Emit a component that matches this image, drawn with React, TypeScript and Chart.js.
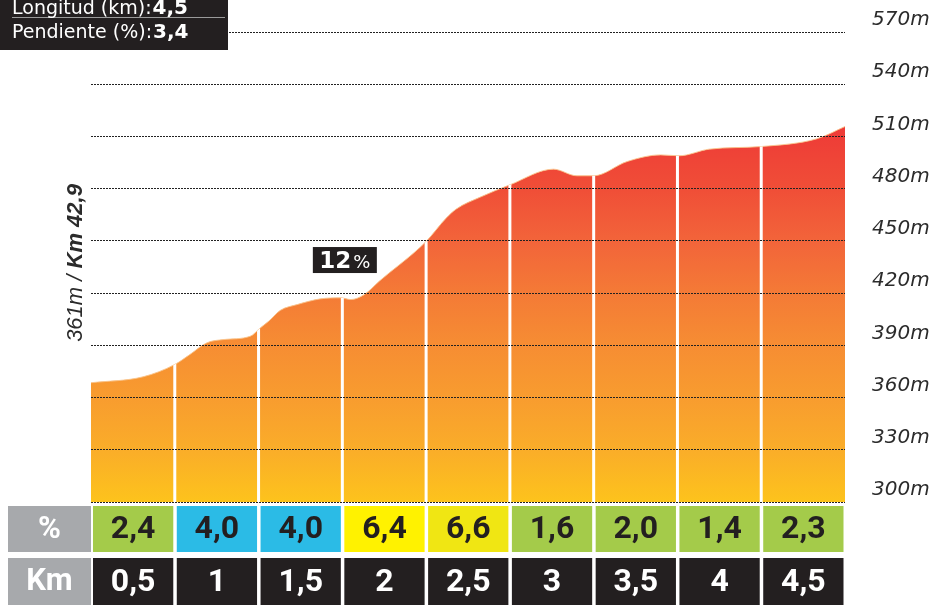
import React, { useEffect, useRef } from 'react';
import { Chart, registerables } from 'chart.js';

Chart.register(...registerables);

// Profile (km from start, elevation in metres)
const kmPoints = [0, 0.31, 0.5, 0.59, 0.69, 0.79, 0.95, 1.01, 1.06, 1.13, 1.23, 1.37, 1.49, 1.55, 1.63, 1.72, 2.0, 2.12, 2.18, 2.32, 2.5, 2.76, 2.9, 3.0, 3.2, 3.4, 3.51, 3.69, 4.0, 4.33, 4.5];
const elevations = [368.5, 371.9, 379, 384.7, 391.4, 393.3, 395.2, 400, 403.8, 410.1, 413.4, 416.7, 417.3, 416.3, 419.1, 426.8, 449.7, 463.1, 468.3, 475, 482.2, 491.2, 487.4, 487.4, 495.6, 499.4, 498.9, 502.7, 504.2, 508.6, 515.7];

const yMin = 300;
const yMax = 570;
const yStep = 30;

// Half-kilometre segments
const segmentEnds = [0.5, 1, 1.5, 2, 2.5, 3, 3.5, 4, 4.5];
const segmentKmLabels = ['0,5', '1', '1,5', '2', '2,5', '3', '3,5', '4', '4,5'];
const segmentGrades = ['2,4', '4,0', '4,0', '6,4', '6,6', '1,6', '2,0', '1,4', '2,3'];
const segmentColors = ['#a4cb4a', '#2bbbe6', '#2bbbe6', '#fff200', '#f0e613', '#a4cb4a', '#a4cb4a', '#a4cb4a', '#a4cb4a'];
const rowHeaders = ['%', 'Km'];

const infoLines: [string, string][] = [
  ['Longitud (km):', '4,5'],
  ['Pendiente (%):', '3,4'],
];
const startLabel: [string, string] = ['361m / ', 'Km 42,9'];
const peakLabel: [string, string] = ['12', '%'];
const peakLabelKm = 1.515;
const peakLabelElevation = 439;

const profilePlugin = {
  id: 'profileDecor',
  afterDatasetsDraw(chart: any) {
    const { ctx, chartArea, scales } = chart;
    const xs = scales.x;
    const line = chart.getDatasetMeta(0).dataset;
    ctx.save();
    ctx.beginPath();
    if (line && typeof line.path === 'function') {
      line.path(ctx);
      ctx.lineTo(chartArea.right, chartArea.bottom);
      ctx.lineTo(chartArea.left, chartArea.bottom);
      ctx.closePath();
    } else {
      ctx.rect(chartArea.left, chartArea.top, chartArea.right - chartArea.left, chartArea.bottom - chartArea.top);
    }
    ctx.clip();
    ctx.strokeStyle = '#ffffff';
    ctx.lineWidth = 3;
    segmentEnds.slice(0, -1).forEach((km) => {
      const px = xs.getPixelForValue(km);
      ctx.beginPath();
      ctx.moveTo(px, chartArea.top);
      ctx.lineTo(px, chartArea.bottom + 2);
      ctx.stroke();
    });
    ctx.restore();
  },
  afterDraw(chart: any) {
    const { ctx, chartArea, scales } = chart;
    const xs = scales.x;
    const ys = scales.y;
    ctx.save();

    // ---- bottom table ----
    const rowTops = [chartArea.bottom + 4, chartArea.bottom + 56];
    const rowHeights = [46, 47];
    rowHeaders.forEach((h, r) => {
      ctx.fillStyle = '#a7a9ac';
      ctx.fillRect(8, rowTops[r], chartArea.left - 8, rowHeights[r]);
      ctx.fillStyle = '#ffffff';
      ctx.font = 'bold 31px Roboto';
      ctx.textAlign = 'center';
      ctx.textBaseline = 'middle';
      ctx.fillText(h, (8 + chartArea.left) / 2, rowTops[r] + rowHeights[r] / 2 + 1);
    });
    segmentEnds.forEach((end, i) => {
      const start = i === 0 ? 0 : segmentEnds[i - 1];
      const l = xs.getPixelForValue(start) + 2;
      const rr = xs.getPixelForValue(end) - 1.5;
      const cx = (l + rr) / 2;
      // grade row
      ctx.fillStyle = segmentColors[i];
      ctx.fillRect(l, rowTops[0], rr - l, rowHeights[0]);
      ctx.fillStyle = '#231f20';
      ctx.font = 'bold 32px Roboto';
      ctx.textAlign = 'center';
      ctx.textBaseline = 'middle';
      ctx.fillText(segmentGrades[i], cx, rowTops[0] + rowHeights[0] / 2 + 1);
      // km row
      ctx.fillStyle = '#231f20';
      ctx.fillRect(l, rowTops[1], rr - l, rowHeights[1]);
      ctx.fillStyle = '#ffffff';
      ctx.fillText(segmentKmLabels[i], cx, rowTops[1] + rowHeights[1] / 2 + 1);
    });

    // ---- info box ----
    ctx.fillStyle = '#231f20';
    ctx.fillRect(0, 0, 228, 50);
    ctx.strokeStyle = '#9a9a9a';
    ctx.lineWidth = 1;
    ctx.beginPath();
    ctx.moveTo(12, 17.5);
    ctx.lineTo(225, 17.5);
    ctx.stroke();
    ctx.textAlign = 'left';
    ctx.textBaseline = 'alphabetic';
    const baselines = [13.5, 38];
    infoLines.forEach(([label, value], i) => {
      ctx.fillStyle = '#ffffff';
      ctx.font = '19px "DejaVu Sans"';
      ctx.fillText(label, 12, baselines[i]);
      const w = ctx.measureText(label).width;
      ctx.font = 'bold 20px "DejaVu Sans"';
      ctx.fillText(value, 12 + w + 1, baselines[i]);
    });

    // ---- rotated start label ----
    ctx.save();
    ctx.translate(chartArea.left - 9, 263);
    ctx.rotate(-Math.PI / 2);
    ctx.fillStyle = '#2b2b2b';
    ctx.font = 'italic 22px "Liberation Sans"';
    const w1 = ctx.measureText(startLabel[0]).width;
    ctx.font = 'italic bold 22px "Liberation Sans"';
    const w2 = ctx.measureText(startLabel[1]).width;
    const sx = -(w1 + w2) / 2;
    ctx.textAlign = 'left';
    ctx.font = 'italic 22px "Liberation Sans"';
    ctx.fillText(startLabel[0], sx, 0);
    ctx.font = 'italic bold 22px "Liberation Sans"';
    ctx.fillText(startLabel[1], sx + w1, 0);
    ctx.restore();

    // ---- 12% label ----
    const pcx = xs.getPixelForValue(peakLabelKm);
    const pcy = ys.getPixelForValue(peakLabelElevation);
    ctx.fillStyle = '#231f20';
    ctx.fillRect(pcx - 32, pcy - 13, 64, 26);
    ctx.fillStyle = '#ffffff';
    ctx.textBaseline = 'alphabetic';
    ctx.font = 'bold 23px "DejaVu Sans"';
    const tw1 = ctx.measureText(peakLabel[0]).width;
    ctx.font = '18px "DejaVu Sans"';
    const tw2 = ctx.measureText(peakLabel[1]).width;
    let tx = pcx - (tw1 + tw2 + 2) / 2;
    ctx.font = 'bold 23px "DejaVu Sans"';
    ctx.fillText(peakLabel[0], tx, pcy + 8);
    tx += tw1 + 2;
    ctx.font = '18px "DejaVu Sans"';
    ctx.fillText(peakLabel[1], tx, pcy + 8);

    ctx.restore();
  },
};

export default function App() {
  const canvasRef = useRef<HTMLCanvasElement | null>(null);

  useEffect(() => {
    const canvas = canvasRef.current;
    if (!canvas) return;
    const points = kmPoints.map((x, i) => ({ x, y: elevations[i] }));
    const chart = new Chart(canvas, {
      type: 'line',
      data: {
        datasets: [
          {
            data: points,
            fill: 'start',
            cubicInterpolationMode: 'monotone',
            pointRadius: 0,
            borderWidth: 1,
            borderColor: 'rgba(250,196,140,0.9)',
            backgroundColor: (c: any) => {
              const { chart: ch } = c;
              const area = ch.chartArea;
              if (!area) return '#f68d33';
              const g = ch.ctx.createLinearGradient(0, area.top, 0, area.bottom);
              g.addColorStop(0, '#ea2c3a');
              g.addColorStop(0.2, '#ee3a37');
              g.addColorStop(0.333, '#f04e37');
              g.addColorStop(0.444, '#f2643a');
              g.addColorStop(0.555, '#f47a36');
              g.addColorStop(0.666, '#f68d33');
              g.addColorStop(0.777, '#f89c2f');
              g.addColorStop(0.889, '#faad29');
              g.addColorStop(1, '#fdc31c');
              return g;
            },
          },
        ],
      },
      options: {
        responsive: false,
        animation: false,
        events: [],
        layout: { padding: { left: 91, top: 32, right: 0, bottom: 103 } },
        plugins: {
          legend: { display: false },
          tooltip: { enabled: false },
          title: { display: false },
        },
        scales: {
          x: {
            type: 'linear',
            min: 0,
            max: 4.5,
            display: false,
          },
          y: {
            position: 'right',
            min: yMin,
            max: yMax,
            afterFit: (s: any) => {
              s.width = 92;
              s.paddingTop = 0;
              s.paddingBottom = 0;
            },
            grid: {
              color: '#222222',
              lineWidth: 1,
              drawTicks: false,
              z: 1,
            },
            border: { display: false, dash: [2, 1] },
            ticks: {
              stepSize: yStep,
              padding: 27,
              labelOffset: -12,
              color: '#2b2b2b',
              font: { family: '"DejaVu Sans"', size: 20, style: 'italic' },
              callback: (v: any) => `${v}m`,
            },
          },
        },
      },
      plugins: [profilePlugin],
    });
    return () => chart.destroy();
  }, []);

  return (
    <div style={{ position: 'absolute', left: 0, top: 0, width: 937, height: 605, background: '#ffffff' }}>
      <canvas ref={canvasRef} width={937} height={605} style={{ display: 'block' }} />
    </div>
  );
}
